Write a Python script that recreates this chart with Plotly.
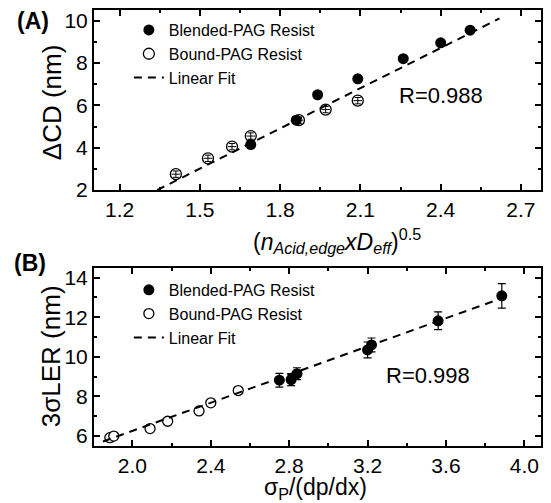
import plotly.graph_objects as go

# ---------------- Data ----------------
# Panel A
a_blend_x = [1.69, 1.86, 1.94, 2.09, 2.26, 2.40, 2.51]
a_blend_y = [4.15, 5.3, 6.5, 7.25, 8.2, 8.95, 9.55]
a_bound_x = [1.41, 1.53, 1.62, 1.69, 1.87, 1.97, 2.09]
a_bound_y = [2.75, 3.5, 4.05, 4.55, 5.3, 5.8, 6.22]
a_bound_err = [0.15, 0.15, 0.15, 0.15, 0.15, 0.15, 0.15]
a_fit_x = [1.34, 2.62]
a_fit_y = [2.0, 10.1]

# Panel B
b_blend_x = [2.75, 2.81, 2.84, 3.20, 3.22, 3.56, 3.885]
b_blend_y = [8.82, 8.85, 9.15, 10.35, 10.6, 11.82, 13.08]
b_blend_err = [0.35, 0.3, 0.3, 0.4, 0.35, 0.45, 0.62]
b_bound_x = [1.885, 1.905, 2.09, 2.18, 2.34, 2.40, 2.54]
b_bound_y = [5.92, 6.0, 6.38, 6.75, 7.27, 7.68, 8.3]
b_fit_x = [1.85, 3.84]
b_fit_y = [5.73, 12.8]

FONT = "Liberation Sans, Arial, Helvetica, sans-serif"

fig = go.Figure()

# Panel A traces
fig.add_trace(go.Scatter(
    x=a_blend_x, y=a_blend_y, mode="markers", name="Blended-PAG Resist",
    marker=dict(symbol="circle", size=11, color="black"),
    xaxis="x", yaxis="y", legend="legend"))
fig.add_trace(go.Scatter(
    x=a_bound_x, y=a_bound_y, mode="markers", name="Bound-PAG Resist",
    marker=dict(symbol="circle", size=11, color="rgba(255,255,255,0)",
                line=dict(color="black", width=1.3)),
    error_y=dict(type="data", array=a_bound_err, color="black", thickness=1, width=3),
    error_x=dict(type="constant", value=0.016, color="black", thickness=1, width=0),
    xaxis="x", yaxis="y", legend="legend"))
fig.add_trace(go.Scatter(
    x=a_fit_x, y=a_fit_y, mode="lines", name="Linear Fit",
    line=dict(color="black", width=2, dash="8px,6px"),
    xaxis="x", yaxis="y", legend="legend"))

# Panel B traces
fig.add_trace(go.Scatter(
    x=b_blend_x, y=b_blend_y, mode="markers", name="Blended-PAG Resist",
    marker=dict(symbol="circle", size=11, color="black"),
    error_y=dict(type="data", array=b_blend_err, color="black", thickness=1.2, width=4),
    xaxis="x2", yaxis="y2", legend="legend2"))
fig.add_trace(go.Scatter(
    x=b_bound_x, y=b_bound_y, mode="markers", name="Bound-PAG Resist",
    marker=dict(symbol="circle", size=10, color="white", line=dict(color="black", width=1.3)),
    xaxis="x2", yaxis="y2", legend="legend2"))
fig.add_trace(go.Scatter(
    x=b_fit_x, y=b_fit_y, mode="lines", name="Linear Fit",
    line=dict(color="black", width=2, dash="8px,6px"),
    xaxis="x2", yaxis="y2", legend="legend2"))

axis_common = dict(
    showline=True, linewidth=2, linecolor="black", mirror="allticks",
    ticks="inside", ticklen=6, tickwidth=1.5, tickcolor="black",
    showgrid=False, zeroline=False,
    tickfont=dict(family=FONT, size=21, color="black"),
)

fig.update_layout(
    width=551, height=503, autosize=False,
    margin=dict(l=94, r=8, t=10, b=57),
    paper_bgcolor="white", plot_bgcolor="white",
    font=dict(family=FONT, color="black"),
    xaxis=dict(domain=[0, 1], anchor="y", range=[1.104, 2.775], tick0=1.2, dtick=0.3,
               tickformat=".1f",
               minor=dict(dtick=0.15, tick0=1.2, ticks="inside", ticklen=3, tickcolor="black"),
               **axis_common),
    yaxis=dict(domain=[0.587, 1], anchor="x", range=[2, 10.5], tick0=2, dtick=2,
               minor=dict(dtick=1, tick0=2, ticks="inside", ticklen=3, tickcolor="black"),
               **axis_common),
    xaxis2=dict(domain=[0, 1], anchor="y2", range=[1.804, 4.085], tick0=2.0, dtick=0.4,
                tickformat=".1f",
                minor=dict(dtick=0.2, tick0=2.0, ticks="inside", ticklen=3, tickcolor="black"),
                **axis_common),
    yaxis2=dict(domain=[0, 0.409], anchor="x2", range=[5.5, 14.5], tick0=6, dtick=2,
                minor=dict(dtick=1, tick0=6, ticks="inside", ticklen=3, tickcolor="black"),
                **axis_common),
    legend=dict(x=0.078, y=0.993, xanchor="left", yanchor="top",
                bgcolor="rgba(0,0,0,0)", borderwidth=0,
                font=dict(family=FONT, size=16, color="black"),
                tracegroupgap=0, itemwidth=30),
    legend2=dict(x=0.078, y=0.397, xanchor="left", yanchor="top",
                 bgcolor="rgba(0,0,0,0)", borderwidth=0,
                 font=dict(family=FONT, size=16, color="black"),
                 tracegroupgap=0, itemwidth=30),
    showlegend=True,
    annotations=[
        dict(text="R=0.988", x=443, y=95, font=dict(size=22)),
        dict(text="R=0.998", x=429, y=375, font=dict(size=22)),
        dict(text="<b>(A)</b>", x=33, y=21, font=dict(size=23)),
        dict(text="<b>(B)</b>", x=30, y=263, font=dict(size=23)),
        dict(text="ΔCD (nm)", x=52, y=102, textangle=-90, font=dict(size=26)),
        dict(text="3σLER (nm)", x=51, y=356, textangle=-90, font=dict(size=26)),
        dict(text="(<i>n</i><sub><i>Acid,edge</i></sub><i>xD</i><sub><i>eff</i></sub>)<sup>0.5</sup>",
             x=338, y=241, font=dict(size=23)),
        dict(text="σ<sub>P</sub>/(dp/dx)", x=316, y=489, font=dict(size=23)),
    ],
)

# Convert pixel-based annotation positions to paper coordinates
L, R, T, B = 94, 8, 10, 57
pw, ph = 551 - L - R, 503 - T - B
for ann in fig.layout.annotations:
    px, py = ann.x, ann.y
    ann.x = (px - L) / pw
    ann.y = (503 - B - py) / ph
    ann.xref = "paper"
    ann.yref = "paper"
    ann.xanchor = "center"
    ann.yanchor = "middle"
    ann.showarrow = False
    ann.font.family = FONT
    ann.font.color = "black"

fig.write_html("out.html", config={"displayModeBar": False},
               post_script="document.body.style.margin='0';")
